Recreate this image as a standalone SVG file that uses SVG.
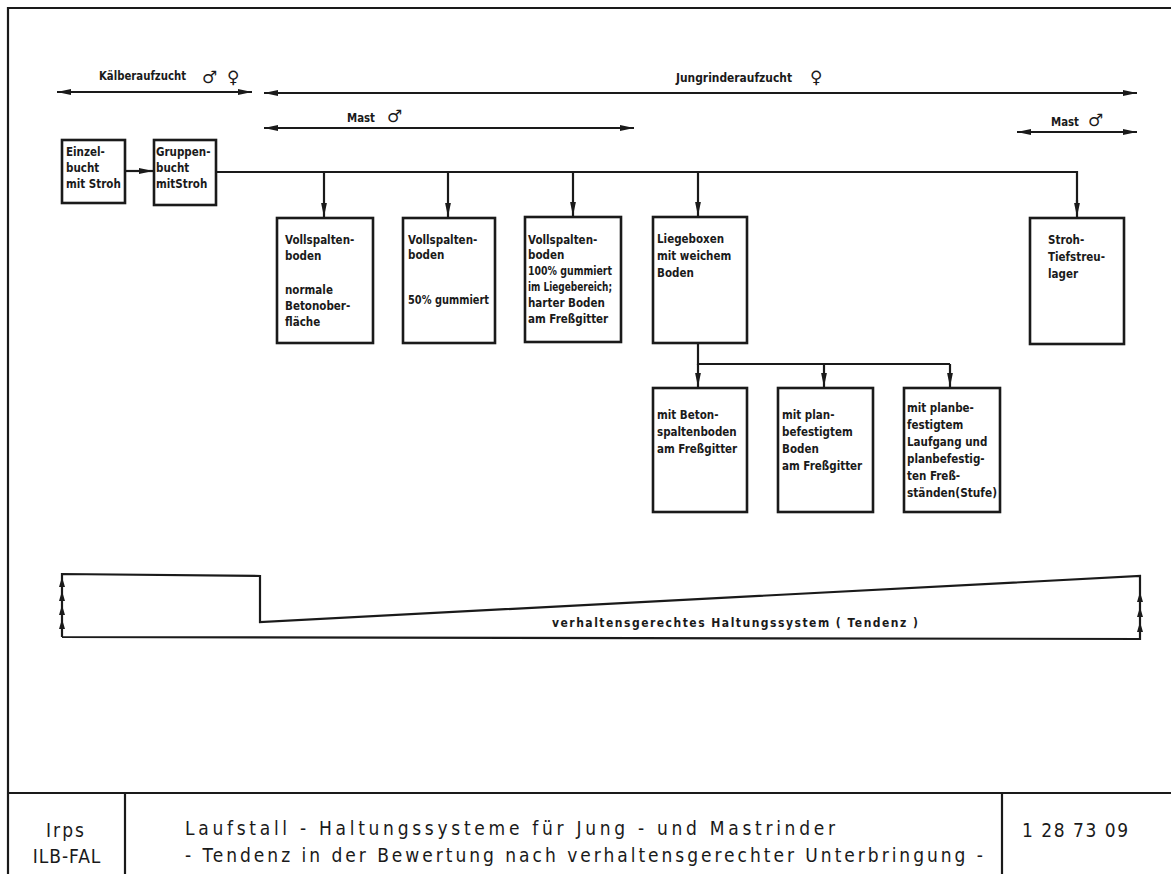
<svg xmlns="http://www.w3.org/2000/svg" width="1171" height="874" viewBox="0 0 1171 874">
<defs>
<style>
.ln{fill:none;stroke:#1a1a1a;stroke-width:2.2}
.bx{fill:#fff;stroke:#1a1a1a;stroke-width:2.6}
.t{font-family:"DejaVu Sans Condensed","DejaVu Sans",sans-serif;font-stretch:condensed;font-weight:bold;font-size:11.5px;fill:#1a1a1a}
.h{font-family:"DejaVu Sans Condensed","DejaVu Sans",sans-serif;font-stretch:condensed;font-weight:bold;font-size:12px;fill:#1a1a1a}
.sym{font-family:"DejaVu Sans",sans-serif;font-weight:bold;font-size:17px;fill:#1a1a1a}
.ti{font-family:"DejaVu Sans Condensed","DejaVu Sans",sans-serif;font-stretch:condensed;font-size:19px;fill:#1a1a1a}
</style>
<marker id="ah" viewBox="0 0 14 7" refX="14" refY="3.5" markerWidth="14" markerHeight="7" markerUnits="userSpaceOnUse" orient="auto-start-reverse">
<path d="M0,0.6 L14,3.5 L0,6.4 Z" fill="#1a1a1a"/>
</marker>
<path id="up" d="M0,0 L-3,10 L3,10 Z" fill="#1a1a1a"/>
</defs>
<rect width="1171" height="874" fill="#fff"/>

<g id="frame">
<path class="ln" d="M8,874 V8 H1171"/>
<path class="ln" d="M8,793 H1171 M125,793 V874 M1002,793 V874"/>
</g>

<g id="phases">
<line class="ln" x1="57" y1="92" x2="252" y2="92" marker-start="url(#ah)" marker-end="url(#ah)"/>
<line class="ln" x1="264" y1="93" x2="1137" y2="93" marker-start="url(#ah)" marker-end="url(#ah)"/>
<text class="h" x="99" y="80" textLength="87" lengthAdjust="spacingAndGlyphs">Kälberaufzucht</text>
<text class="sym" x="202" y="83">♂</text>
<text class="sym" x="227" y="83">♀</text>
<text class="h" x="676" y="82" textLength="116" lengthAdjust="spacingAndGlyphs">Jungrinderaufzucht</text>
<text class="sym" x="810" y="83">♀</text>
<line class="ln" x1="264" y1="128" x2="634" y2="128" marker-start="url(#ah)" marker-end="url(#ah)"/>
<text class="h" x="347" y="122" textLength="28" lengthAdjust="spacingAndGlyphs">Mast</text>
<text class="sym" x="387" y="122">♂</text>
<line class="ln" x1="1017" y1="132" x2="1137" y2="132" marker-start="url(#ah)" marker-end="url(#ah)"/>
<text class="h" x="1051" y="126" textLength="28" lengthAdjust="spacingAndGlyphs">Mast</text>
<text class="sym" x="1088" y="126">♂</text>
</g>

<g id="connectors">
<line class="ln" x1="125" y1="171" x2="153" y2="171" marker-end="url(#ah)"/>
<path class="ln" d="M216,172 H1077 V205"/>
<line class="ln" x1="1077" y1="200" x2="1077" y2="217" marker-end="url(#ah)"/>
<line class="ln" x1="324" y1="172" x2="324" y2="217" marker-end="url(#ah)"/>
<line class="ln" x1="448" y1="172" x2="448" y2="217" marker-end="url(#ah)"/>
<line class="ln" x1="573" y1="172" x2="573" y2="216" marker-end="url(#ah)"/>
<line class="ln" x1="698" y1="172" x2="698" y2="216" marker-end="url(#ah)"/>
<path class="ln" d="M698,343 V364 H950"/>
<line class="ln" x1="698" y1="364" x2="698" y2="387" marker-end="url(#ah)"/>
<line class="ln" x1="824" y1="364" x2="824" y2="387" marker-end="url(#ah)"/>
<line class="ln" x1="950" y1="364" x2="950" y2="387" marker-end="url(#ah)"/>
</g>

<g id="einzelbucht">
<rect class="bx" x="62" y="140" width="63" height="63"/>
<text class="t" x="66" y="156">Einzel-</text>
<text class="t" x="66" y="172">bucht</text>
<text class="t" x="66" y="188">mit Stroh</text>
</g>
<g id="gruppenbucht">
<rect class="bx" x="154" y="140" width="62" height="65"/>
<text class="t" x="156" y="156">Gruppen-</text>
<text class="t" x="156" y="172">bucht</text>
<text class="t" x="156" y="188">mitStroh</text>
</g>

<g id="vollspalten1">
<rect class="bx" x="277" y="218" width="96" height="125"/>
<text class="t" x="285" y="244">Vollspalten-</text>
<text class="t" x="285" y="260">boden</text>
<text class="t" x="285" y="294">normale</text>
<text class="t" x="285" y="310">Betonober-</text>
<text class="t" x="285" y="326">fläche</text>
</g>
<g id="vollspalten2">
<rect class="bx" x="403" y="218" width="92" height="125"/>
<text class="t" x="408" y="244">Vollspalten-</text>
<text class="t" x="408" y="259">boden</text>
<text class="t" x="408" y="304" textLength="81" lengthAdjust="spacingAndGlyphs">50% gummiert</text>
</g>
<g id="vollspalten3">
<rect class="bx" x="525" y="217" width="96" height="125"/>
<text class="t" x="528" y="244">Vollspalten-</text>
<text class="t" x="528" y="259">boden</text>
<text class="t" x="528" y="275" textLength="84" lengthAdjust="spacingAndGlyphs">100% gummiert</text>
<text class="t" x="528" y="291" textLength="84" lengthAdjust="spacingAndGlyphs">im Liegebereich;</text>
<text class="t" x="528" y="307">harter Boden</text>
<text class="t" x="528" y="323">am Freßgitter</text>
</g>
<g id="liegeboxen">
<rect class="bx" x="653" y="217" width="94" height="126"/>
<text class="t" x="657" y="243">Liegeboxen</text>
<text class="t" x="657" y="260">mit weichem</text>
<text class="t" x="657" y="277">Boden</text>
</g>
<g id="stroh">
<rect class="bx" x="1030" y="218" width="94" height="126"/>
<text class="t" x="1048" y="244">Stroh-</text>
<text class="t" x="1048" y="261">Tiefstreu-</text>
<text class="t" x="1048" y="278">lager</text>
</g>

<g id="beton">
<rect class="bx" x="653" y="388" width="94" height="124"/>
<text class="t" x="657" y="419">mit Beton-</text>
<text class="t" x="657" y="436">spaltenboden</text>
<text class="t" x="657" y="453">am Freßgitter</text>
</g>
<g id="planbefestigt">
<rect class="bx" x="778" y="388" width="95" height="124"/>
<text class="t" x="782" y="419">mit plan-</text>
<text class="t" x="782" y="436">befestigtem</text>
<text class="t" x="782" y="453">Boden</text>
<text class="t" x="782" y="470">am Freßgitter</text>
</g>
<g id="laufgang">
<rect class="bx" x="904" y="388" width="96" height="124"/>
<text class="t" x="907" y="412">mit planbe-</text>
<text class="t" x="907" y="429">festigtem</text>
<text class="t" x="907" y="446">Laufgang und</text>
<text class="t" x="907" y="463">planbefestig-</text>
<text class="t" x="907" y="480">ten Freß-</text>
<text class="t" x="907" y="497" textLength="90" lengthAdjust="spacingAndGlyphs">ständen(Stufe)</text>
</g>

<g id="tendenz">
<path class="ln" d="M62,637 V574 L260,576 V622 L1140,576 V639 L62,637"/>
<use href="#up" x="62" y="577"/>
<use href="#up" x="62" y="591"/>
<use href="#up" x="62" y="605"/>
<use href="#up" x="62" y="619"/>
<use href="#up" x="1140" y="592"/>
<use href="#up" x="1140" y="607"/>
<use href="#up" x="1140" y="622"/>
<text class="h" x="552" y="627" textLength="366" lengthAdjust="spacing">verhaltensgerechtes  Haltungssystem  ( Tendenz )</text>
</g>

<g id="titleblock">
<text class="ti" x="66" y="837" text-anchor="middle" letter-spacing="2">Irps</text>
<text class="ti" x="67" y="863" text-anchor="middle" font-size="17" letter-spacing="1">ILB-FAL</text>
<text class="ti" x="185" y="835" textLength="650" lengthAdjust="spacing">Laufstall - Haltungssysteme für Jung - und Mastrinder</text>
<text class="ti" x="185" y="862" textLength="798" lengthAdjust="spacing">- Tendenz in der Bewertung nach verhaltensgerechter Unterbringung -</text>
<text class="ti" x="1022" y="837" textLength="106" lengthAdjust="spacing">1 28 73 09</text>
</g>
</svg>
